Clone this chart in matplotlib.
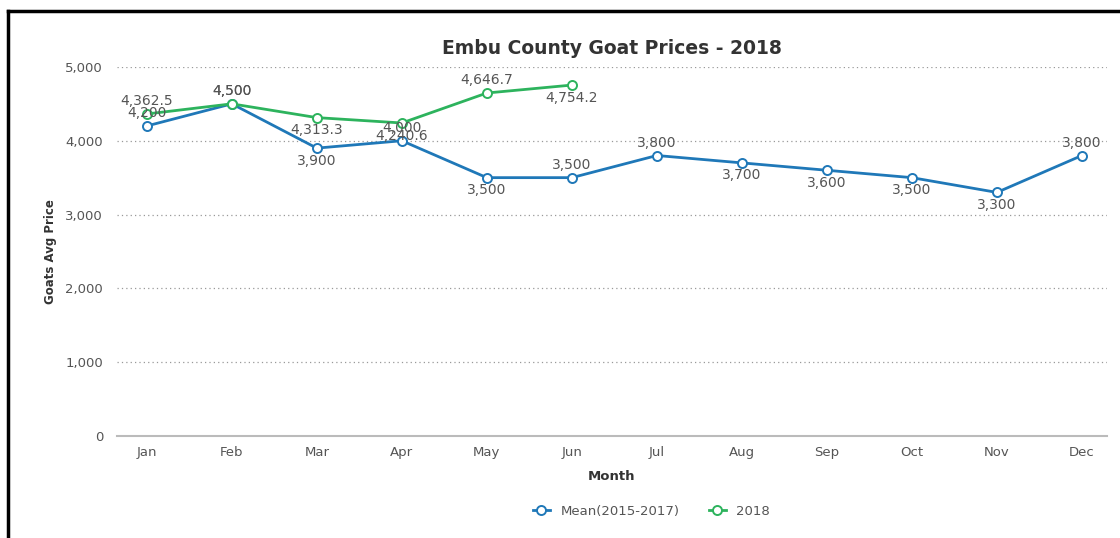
import matplotlib.pyplot as plt
from matplotlib.ticker import FuncFormatter

# monthly goat prices, Embu county
months = ["Jan", "Feb", "Mar", "Apr", "May", "Jun", "Jul", "Aug", "Sep", "Oct", "Nov", "Dec"]
mean_prices = [4200, 4500, 3900, 4000, 3500, 3500, 3800, 3700, 3600, 3500, 3300, 3800]
prices_2018 = [4362.5, 4500, 4313.3, 4240.6, 4646.7, 4754.2]

# where each point label sits: 1 above the marker, -1 below
mean_label_side = [1, 1, -1, 1, -1, 1, 1, -1, -1, -1, -1, 1]
label_side_2018 = [1, 1, -1, -1, 1, -1]

BLUE = "#1f78b8"
GREEN = "#2db35d"
GREY = "#555555"


def fmt_num(v):
    if float(v).is_integer():
        return f"{int(v):,}"
    return f"{v:,.1f}"


def draw_series(ax, values, sides, color, name):
    xs = list(range(len(values)))
    ax.plot(xs, values, color=color, lw=2, marker="o", ms=6.5,
            mfc="white", mec=color, mew=1.4, label=name, zorder=3)
    for x, v, s in zip(xs, values, sides):
        ax.annotate(fmt_num(v), (x, v), xytext=(0, 4 * s), textcoords="offset points",
                    ha="center", va="bottom" if s > 0 else "top",
                    fontsize=10, color=GREY, zorder=4)


fig = plt.figure(figsize=(11.2, 5.38), dpi=100)
ax = fig.add_axes([0.1045, 0.1896, 0.8835, 0.686])

draw_series(ax, mean_prices, mean_label_side, BLUE, "Mean(2015-2017)")
draw_series(ax, prices_2018, label_side_2018, GREEN, "2018")

ax.set_xlim(-0.35, 11.29)
ax.set_ylim(0, 5000)
ax.set_xticks(range(len(months)))
ax.set_xticklabels(months)
ax.set_yticks(range(0, 5001, 1000))
ax.yaxis.set_major_formatter(FuncFormatter(lambda v, p: f"{int(v):,}"))
ax.tick_params(axis="both", length=0, labelsize=9.5, colors=GREY, pad=7)
ax.tick_params(axis="y", pad=10)

ax.grid(axis="y", ls=(0, (1, 2.5)), color="#999999", lw=0.9)
ax.grid(axis="x", visible=False)
for side in ["top", "right", "left"]:
    ax.spines[side].set_visible(False)
ax.spines["bottom"].set_color("#bbbbbb")
ax.spines["bottom"].set_linewidth(1.5)

ax.set_title("Embu County Goat Prices - 2018", fontsize=13.5, fontweight="bold",
             color="#333333", pad=9)
ax.set_xlabel("Month", fontsize=9.5, fontweight="bold", color="#333333", labelpad=8)
ax.set_ylabel("Goats Avg Price", fontsize=8.5, fontweight="bold", color="#333333", labelpad=6)

ax.legend(loc="upper center", bbox_to_anchor=(0.54, -0.155), ncol=2, frameon=False,
          fontsize=9.5, labelcolor=GREY, handlelength=1.3, columnspacing=2.2)

# frame lines along the top and left edge of the image
fig.add_artist(plt.Line2D([0.007, 1.0], [0.98, 0.98], color="black", lw=2.5))
fig.add_artist(plt.Line2D([0.0075, 0.0075], [0.0, 0.98], color="black", lw=2.5))

fig.savefig("out.png", dpi=100)
